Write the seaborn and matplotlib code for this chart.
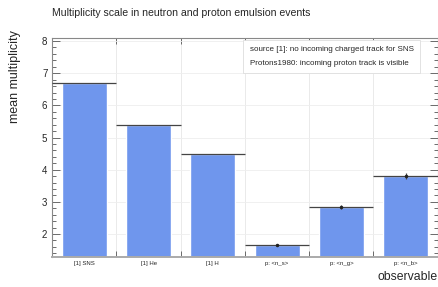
import numpy as np
import pandas as pd
import matplotlib
matplotlib.use("Agg")
import matplotlib.pyplot as plt
import seaborn as sns
from matplotlib.ticker import MultipleLocator, FixedLocator

# data
labels = ["[1] SNS", "[1] He", "[1] H", "p: <n_s>", "p: <n_g>", "p: <n_b>"]
values = [6.70, 5.40, 4.50, 1.65, 2.84, 3.80]
yerrs = [0.0, 0.0, 0.0, 0.02, 0.05, 0.09]
legend_lines = ["source [1]: no incoming charged track for SNS",
                "Protons1980: incoming proton track is visible"]

df = pd.DataFrame({"obs": labels, "mean": values, "err": yerrs})

sns.set_style("white")
plt.rcParams['font.family'] = ['Liberation Sans', 'DejaVu Sans']

fig = plt.figure(figsize=(4.39, 2.87), dpi=100)
ax = fig.add_axes([0.119, 0.105, 0.878, 0.762])

sns.barplot(data=df, x="obs", y="mean", color="#6f96ed", saturation=1,
            width=0.7, errorbar=None, ax=ax, zorder=2)

# bin-wide horizontal error lines like ROOT "E" drawing
xpos = np.arange(len(labels))
ax.errorbar(xpos, df["mean"], xerr=0.5, yerr=df["err"], fmt="none",
            ecolor="#444444", elinewidth=0.9, capsize=0, zorder=3)
ax.plot(xpos[3:], df["mean"][3:], "o", color="#222222", ms=1.5, zorder=4)

ax.set_xlim(-0.5, len(labels) - 0.5)
ax.set_ylim(1.29, 8.09)

# x: labels at centres, ticks + grid at bin edges
ax.set_xticks(xpos)
ax.set_xticklabels(labels, fontsize=4.3)
ax.xaxis.set_minor_locator(FixedLocator(np.arange(-0.5, len(labels), 1.0)))
ax.tick_params(axis="x", which="major", length=0, pad=3)
ax.tick_params(axis="x", which="minor", direction="in", length=4,
               top=True, bottom=True, color="#555555", width=0.6)

ax.yaxis.set_major_locator(MultipleLocator(1))
ax.yaxis.set_minor_locator(MultipleLocator(0.2))
ax.tick_params(axis="y", which="major", direction="in", length=6,
               left=True, right=True, labelsize=7, color="#555555", width=0.6)
ax.tick_params(axis="y", which="minor", direction="in", length=3,
               left=True, right=True, color="#555555", width=0.6)

ax.grid(True, axis="x", which="minor", color="#e6e6e6", lw=0.6, zorder=0)
ax.grid(True, axis="y", which="major", color="#eeeeee", lw=0.6, zorder=0)
ax.set_axisbelow(True)

for s in ax.spines.values():
    s.set_color("#888888")
    s.set_linewidth(0.8)
ax.spines["bottom"].set_linewidth(1.4)
ax.spines["bottom"].set_color("#aaaaaa")

ax.set_xlabel("")
ax.set_ylabel("")
fig.text(0.035, 0.895, "mean multiplicity", rotation=90, ha="center",
         va="top", fontsize=9.0)
fig.text(0.998, 0.015, "observable", ha="right", va="bottom", fontsize=8.8)
fig.text(0.119, 0.955, "Multiplicity scale in neutron and proton emulsion events",
         ha="left", va="center", fontsize=7.6)

# legend box without markers
leg_txt = "\n".join(legend_lines)
ax.text(0.512, 0.962, leg_txt, transform=ax.transAxes, ha="left", va="top",
        fontsize=5.75, linespacing=2.25, zorder=5,
        bbox=dict(boxstyle="square,pad=0.8", fc="white", ec="#dddddd", lw=0.6))

fig.savefig("out.png", dpi=100)
